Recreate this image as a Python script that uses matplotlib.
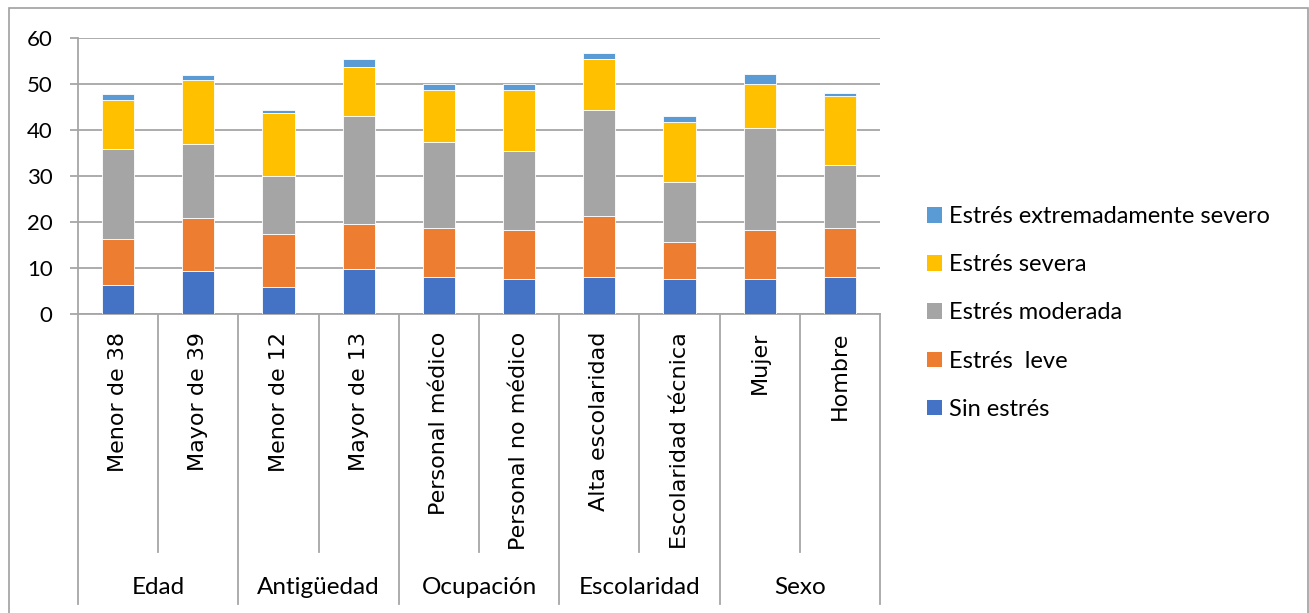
import matplotlib
matplotlib.use("Agg")
import numpy as np
import matplotlib.pyplot as plt
from matplotlib.patches import Rectangle, Patch
from matplotlib.lines import Line2D

# subgroups and their parent groups
categories = ["Menor de 38", "Mayor de 39", "Menor de 12", "Mayor de 13",
              "Personal médico", "Personal no médico", "Alta escolaridad",
              "Escolaridad técnica", "Mujer", "Hombre"]
groups = ["Edad", "Antigüedad", "Ocupación", "Escolaridad", "Sexo"]

series_names = ["Sin estrés", "Estrés  leve", "Estrés moderada",
                "Estrés severa", "Estrés extremadamente severo"]
sin_estres = [6.3, 9.3, 5.9, 9.8, 8.0, 7.7, 8.0, 7.6, 7.6, 8.0]
leve = [9.9, 11.6, 11.6, 9.8, 10.8, 10.6, 13.2, 8.1, 10.7, 10.8]
moderada = [19.6, 16.1, 12.4, 23.4, 18.7, 17.2, 23.2, 12.9, 22.2, 13.7]
severa = [10.8, 13.8, 13.7, 10.8, 11.1, 13.2, 11.0, 13.2, 9.5, 15.0]
extrema = [1.3, 1.2, 0.8, 1.6, 1.4, 1.3, 1.4, 1.3, 2.1, 0.5]

colors = ["#4472C4", "#ED7D31", "#A5A5A5", "#FFC000", "#5B9BD5"]
grid_col = "#A6A6A6"

W, H = 1309, 613
fig = plt.figure(figsize=(W / 100, H / 100), dpi=100)

# outer chart border
fig.patches.append(Rectangle((9 / W, -0.05), (1308 - 9) / W, 1.05 - 8 / H,
                             transform=fig.transFigure, fill=False,
                             edgecolor="#A0A0A0", linewidth=1.2))

x0, x1, ytop, ybot = 78, 880, 38, 314
ax = fig.add_axes([x0 / W, 1 - ybot / H, (x1 - x0) / W, (ybot - ytop) / H])

x = np.arange(len(categories))
bottom = np.zeros(len(categories))
for name, vals, c in zip(series_names, [sin_estres, leve, moderada, severa, extrema], colors):
    ax.bar(x, vals, width=0.4, bottom=bottom, color=c, edgecolor="white",
           linewidth=0.6, zorder=3, label=name)
    bottom += np.array(vals)

ax.set_xlim(-0.5, len(categories) - 0.5)
ax.set_ylim(0, 60)
ax.set_yticks(range(0, 61, 10))
ax.yaxis.grid(True, color=grid_col, linewidth=1.3, zorder=0)
ax.set_axisbelow(True)
for s in ["top", "right"]:
    ax.spines[s].set_visible(False)
ax.spines["left"].set_color(grid_col)
ax.spines["left"].set_linewidth(1.3)
ax.spines["bottom"].set_color(grid_col)
ax.spines["bottom"].set_linewidth(1.3)
ax.tick_params(axis="y", length=5.8, width=1.3, color=grid_col, pad=12.5,
               labelsize=16)
for t in ax.get_yticklabels():
    t.set_fontfamily("Lato")
ax.set_xticks([])

trans = ax.get_xaxis_transform()
h_ax = ybot - ytop

# rotated subgroup labels
for i, lab in enumerate(categories):
    ax.text(i, -(332 - ybot) / h_ax, lab, rotation=90, ha="center", va="top",
            fontsize=16, family="DejaVu Sans", transform=trans)

# separators between subgroups and between groups
for i in range(len(categories) + 1):
    xs = i - 0.5
    depth = 604 if i % 2 == 0 else 552
    ax.add_line(Line2D([xs, xs], [0, -(depth - ybot) / h_ax], transform=trans,
                       color=grid_col, linewidth=1.3, clip_on=False))

for g, lab in enumerate(groups):
    ax.text(2 * g + 0.5, -(587 - ybot) / h_ax, lab, ha="center", va="center",
            fontsize=17.5, family="Lato", transform=trans)

handles = [Patch(facecolor=c) for c in colors][::-1]
fig.legend(handles, series_names[::-1], loc="center left",
           bbox_to_anchor=(906 / W, 1 - 313 / H), frameon=False,
           prop={"family": "Lato", "size": 17}, handlelength=0.64,
           handleheight=0.64, handletextpad=0.3, labelspacing=1.15)

fig.savefig("out.png", dpi=100)
